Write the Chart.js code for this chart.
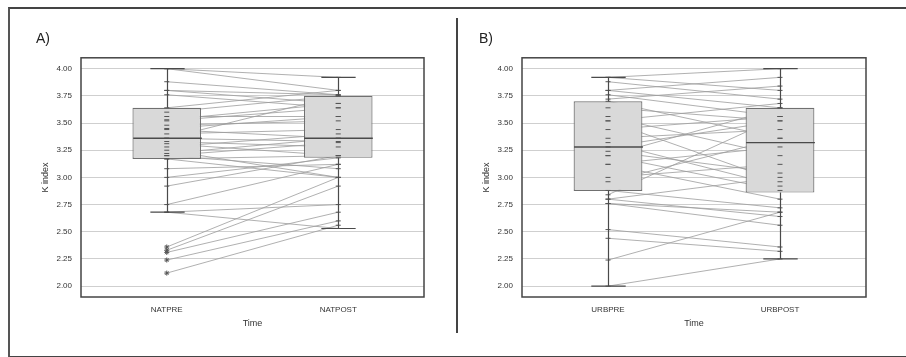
<!DOCTYPE html>
<html>
<head>
<meta charset="utf-8">
<script src="https://cdn.jsdelivr.net/npm/chart.js@4.4.1/dist/chart.umd.min.js"></script>
<style>
  body { margin: 0; background: #fff; }
  #wrap { position: relative; width: 906px; height: 357px; overflow: hidden; background: #fff; }
  #frame { position: absolute; left: 8px; top: 7px; width: 910px; height: 347px;
           border-top: 2px solid #444; border-left: 2px solid #555; border-bottom: 2px solid #444; }
  #divider { position: absolute; left: 456px; top: 18px; width: 2px; height: 315px; background: #444; }
  canvas { position: absolute; top: 0; }
</style>
</head>
<body>
<div id="wrap">
  <div id="frame"></div>
  <div id="divider"></div>
  <canvas id="chartA" width="453" height="357" style="left:0"></canvas>
  <canvas id="chartB" width="453" height="357" style="left:453px"></canvas>
</div>
<script>
// tick values on the K index axis
const yTicks = [2.00, 2.25, 2.50, 2.75, 3.00, 3.25, 3.50, 3.75, 4.00];

// panel A: NAT
const natLabels = ["NATPRE", "NATPOST"];
const natMin = [2.68, 2.53];
const natQ1 = [3.17, 3.18];
const natMed = [3.36, 3.36];
const natQ3 = [3.64, 3.75];
const natMax = [4.00, 3.92];
const natPre = [4.00, 4.00, 3.88, 3.80, 3.80, 3.76, 3.64, 3.60, 3.56, 3.53, 3.52, 3.48, 3.45, 3.44, 3.40,
  3.36, 3.36, 3.33, 3.31, 3.28, 3.25, 3.22, 3.20, 3.20, 3.17, 3.17, 3.08, 3.00, 2.92, 2.75, 2.68, 2.68,
  2.36, 2.33, 2.31, 2.24, 2.12];
const natPost = [3.92, 3.80, 3.76, 3.76, 3.68, 3.64, 3.80, 3.75, 3.56, 3.68, 3.64, 3.52, 3.56, 3.36, 3.44,
  3.33, 3.75, 3.28, 3.20, 3.40, 3.00, 3.36, 3.08, 3.32, 3.20, 3.00, 3.12, 3.18, 3.20, 3.12, 2.75, 2.53,
  3.00, 2.92, 2.68, 2.60, 2.56];

// panel B: URB
const urbLabels = ["URBPRE", "URBPOST"];
const urbMin = [2.00, 2.25];
const urbQ1 = [2.875, 2.86];
const urbMed = [3.28, 3.32];
const urbQ3 = [3.70, 3.64];
const urbMax = [3.92, 4.00];
const urbPre = [3.92, 3.92, 3.88, 3.80, 3.80, 3.76, 3.72, 3.70, 3.64, 3.56, 3.52, 3.52, 3.44, 3.36, 3.32,
  3.28, 3.24, 3.20, 3.20, 3.12, 3.12, 3.00, 2.96, 2.88, 2.84, 2.80, 2.80, 2.76, 2.76, 2.52, 2.44, 2.24, 2.00];
const urbPost = [4.00, 3.80, 3.72, 3.92, 3.64, 3.56, 3.84, 3.36, 3.52, 3.20, 3.68, 2.96, 3.56, 3.44, 2.92,
  3.52, 3.04, 2.88, 3.64, 2.80, 3.28, 3.12, 3.36, 2.72, 3.56, 2.64, 3.00, 2.56, 2.68, 2.36, 2.32, 2.68, 2.25];

const FONT = "'Liberation Sans', Arial, sans-serif";

// whiskers, caps, medians and the plot frame
const boxPlugin = {
  id: "boxWhisker",
  afterDatasetsDraw(chart, args, opts) {
    const ctx = chart.ctx;
    const x = chart.scales.x, y = chart.scales.y;
    const bars = chart.getDatasetMeta(opts.boxIndex).data;
    ctx.save();
    ctx.strokeStyle = "#4a4a4a";
    ctx.lineWidth = 1.2;
    for (let i = 0; i < opts.med.length; i++) {
      const cx = Math.round(x.getPixelForValue(i)) + 0.5;
      const half = bars[i].width / 2;
      const cap = half / 2;
      ctx.beginPath();
      ctx.moveTo(cx, y.getPixelForValue(opts.max[i]));
      ctx.lineTo(cx, y.getPixelForValue(opts.q3[i]));
      ctx.moveTo(cx, y.getPixelForValue(opts.q1[i]));
      ctx.lineTo(cx, y.getPixelForValue(opts.min[i]));
      ctx.moveTo(cx - cap, y.getPixelForValue(opts.max[i]));
      ctx.lineTo(cx + cap, y.getPixelForValue(opts.max[i]));
      ctx.moveTo(cx - cap, y.getPixelForValue(opts.min[i]));
      ctx.lineTo(cx + cap, y.getPixelForValue(opts.min[i]));
      ctx.stroke();
      ctx.lineWidth = 1.4;
      ctx.beginPath();
      ctx.moveTo(cx - half, y.getPixelForValue(opts.med[i]));
      ctx.lineTo(cx + half, y.getPixelForValue(opts.med[i]));
      ctx.stroke();
      ctx.lineWidth = 1.2;
    }
    const a = chart.chartArea;
    ctx.strokeStyle = "#444";
    ctx.lineWidth = 1.5;
    ctx.strokeRect(a.left, a.top, a.right - a.left, a.bottom - a.top);
    ctx.restore();
  }
};

function makePanel(id, title, labels, pre, post, min, q1, med, q3, max, pad, yWidth, yTitlePad) {
  const lines = pre.map((v, i) => ({
    type: "line",
    data: [v, post[i]],
    borderColor: "#9c9c9c",
    borderWidth: 0.8,
    pointRadius: 0,
    order: 3
  }));
  const marks = pre.map(v => ({ x: labels[0], y: v })).concat(post.map(v => ({ x: labels[1], y: v })));
  const datasets = [{
    type: "bar",
    data: q1.map((v, i) => [v, q3[i]]),
    backgroundColor: "#d9d9d9",
    borderColor: "#707070",
    borderWidth: 1.2,
    borderSkipped: false,
    barPercentage: 0.4,
    categoryPercentage: 1,
    order: 2
  }, {
    type: "line",
    data: marks,
    showLine: false,
    pointStyle: ctx => {
      const p = ctx.raw;
      if (!p) return "line";
      const k = labels.indexOf(p.x);
      return p.y < min[k] || p.y > max[k] ? "star" : "line";
    },
    pointRadius: 2.5,
    borderColor: "#555",
    borderWidth: 1,
    order: 1
  }].concat(lines);

  return new Chart(document.getElementById(id), {
    type: "bar",
    data: { labels: labels, datasets: datasets },
    options: {
      responsive: false,
      animation: false,
      layout: { padding: pad },
      plugins: {
        legend: { display: false },
        tooltip: { enabled: false },
        title: {
          display: true,
          text: title,
          align: "start",
          color: "#222",
          font: { family: FONT, size: 14, weight: "normal" },
          padding: { top: 31, bottom: 10 }
        },
        boxWhisker: { boxIndex: 0, min: min, q1: q1, med: med, q3: q3, max: max }
      },
      scales: {
        x: {
          offset: true,
          grid: { display: false, drawTicks: false },
          border: { display: false },
          ticks: { color: "#333", padding: 8, font: { family: FONT, size: 8 } },
          title: {
            display: true, text: "Time", color: "#333",
            font: { family: FONT, size: 9 }, padding: { top: 0, bottom: 1 }
          },
          afterFit: s => { s.height = 33; }
        },
        y: {
          min: 1.9,
          max: 4.1,
          afterBuildTicks: s => { s.ticks = yTicks.map(v => ({ value: v })); },
          grid: { color: "#cfcfcf", drawTicks: false },
          border: { display: false },
          ticks: {
            color: "#333", padding: 9, font: { family: FONT, size: 8 },
            callback: v => Number(v).toFixed(2)
          },
          title: {
            display: true, text: "K index", color: "#333",
            font: { family: FONT, size: 9 }, padding: { top: yTitlePad, bottom: 0 }
          },
          afterFit: s => { s.width = yWidth; }
        }
      }
    },
    plugins: [boxPlugin]
  });
}

makePanel("chartA", "A)", natLabels, natPre, natPost, natMin, natQ1, natMed, natQ3, natMax,
  { left: 36, right: 29, top: 0, bottom: 27 }, 45, 4);
makePanel("chartB", "B)", urbLabels, urbPre, urbPost, urbMin, urbQ1, urbMed, urbQ3, urbMax,
  { left: 26, right: 40, top: 0, bottom: 27 }, 43, 2);
</script>
</body>
</html>
